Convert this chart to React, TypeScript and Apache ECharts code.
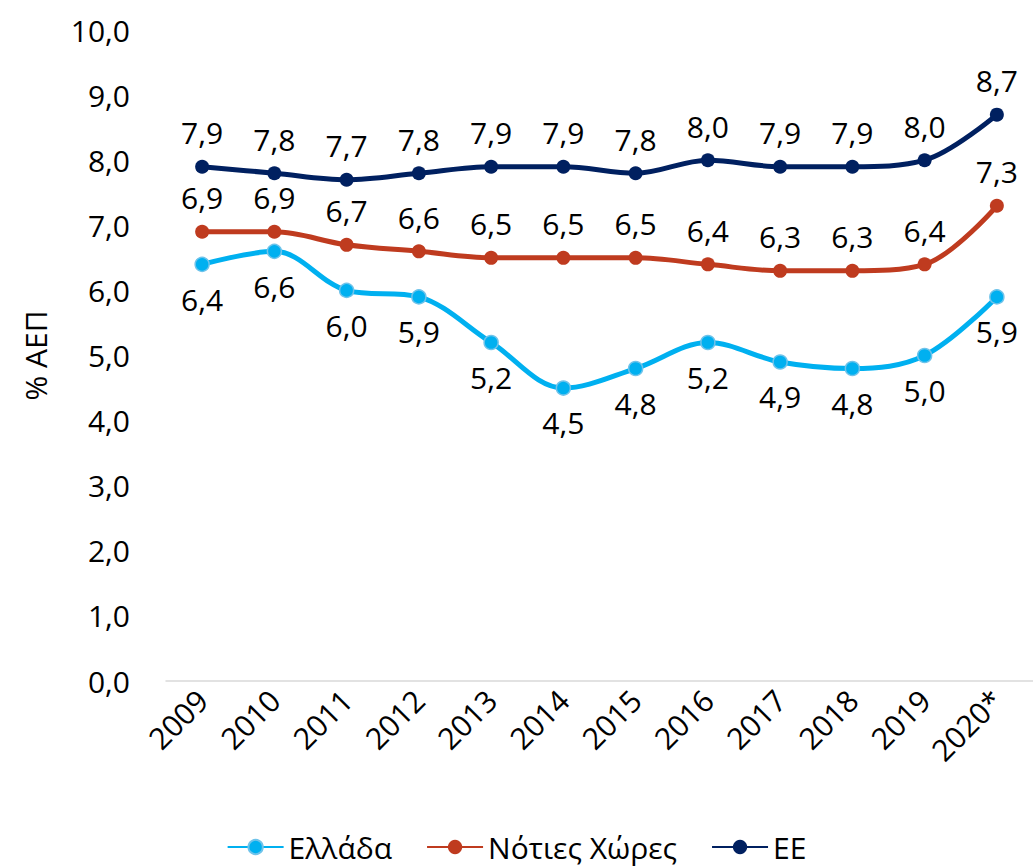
import React, { useEffect, useRef } from "react";
import * as echarts from "echarts";

const years = ["2009", "2010", "2011", "2012", "2013", "2014", "2015", "2016", "2017", "2018", "2019", "2020*"];
const greece = [6.4, 6.6, 6.0, 5.9, 5.2, 4.5, 4.8, 5.2, 4.9, 4.8, 5.0, 5.9];
const south = [6.9, 6.9, 6.7, 6.6, 6.5, 6.5, 6.5, 6.4, 6.3, 6.3, 6.4, 7.3];
const eu = [7.9, 7.8, 7.7, 7.8, 7.9, 7.9, 7.8, 8.0, 7.9, 7.9, 8.0, 8.7];

const FONT = "'Open Sans', 'Noto Sans', sans-serif";
const fmt = (v: number) => v.toFixed(1).replace(".", ",");

export default function App() {
  const ref = useRef<HTMLDivElement>(null);
  useEffect(() => {
    if (!ref.current) return;
    const chart = echarts.init(ref.current, undefined, { renderer: "svg" });
    const mk = (name: string, data: number[], color: string, pos: "top" | "bottom", border?: string) => ({
      name,
      type: "line",
      data,
      smooth: 0.35,
      symbol: "circle",
      symbolSize: 14,
      lineStyle: { width: 5, color },
      itemStyle: { color, borderColor: border || color, borderWidth: border ? 1.5 : 0 },
      label: {
        show: true,
        position: pos,
        distance: 12,
        formatter: (p: any) => fmt(p.value),
        fontFamily: FONT,
        fontSize: 30,
        color: "#000",
      },
    });
    chart.setOption({
      animation: false,
      backgroundColor: "#fff",
      textStyle: { fontFamily: FONT },
      grid: { left: 166, top: 30, width: 872, height: 651 },
      xAxis: {
        type: "category",
        data: years,
        boundaryGap: true,
        axisLine: { show: true, lineStyle: { color: "#d9d9d9", width: 1.5 } },
        axisTick: { show: false },
        axisLabel: { interval: 0, rotate: 45, fontFamily: FONT, fontSize: 30, color: "#000", margin: 14 },
      },
      yAxis: {
        type: "value",
        min: 0,
        max: 10,
        interval: 1,
        name: "% ΑΕΠ",
        nameLocation: "middle",
        nameRotate: 90,
        nameGap: 116,
        nameTextStyle: { fontFamily: FONT, fontSize: 30, color: "#000" },
        axisLine: { show: false },
        axisTick: { show: false },
        splitLine: { show: false },
        axisLabel: { formatter: (v: number) => fmt(v), fontFamily: FONT, fontSize: 30, color: "#000", margin: 36 },
      },
      legend: {
        bottom: 0,
        left: "center",
        itemWidth: 56,
        itemHeight: 18,
        itemGap: 34,
        textStyle: { fontFamily: FONT, fontSize: 30, color: "#000" },
        data: ["Ελλάδα", "Νότιες Χώρες", "ΕΕ"],
      },
      series: [
        mk("Ελλάδα", greece, "#00b0f0", "bottom", "#6fc3ea"),
        mk("Νότιες Χώρες", south, "#bf3b1f", "top"),
        mk("ΕΕ", eu, "#002060", "top"),
      ],
    });
    return () => chart.dispose();
  }, []);
  return <div ref={ref} style={{ width: 1033, height: 867, position: "absolute", left: 0, top: 0 }} />;
}
